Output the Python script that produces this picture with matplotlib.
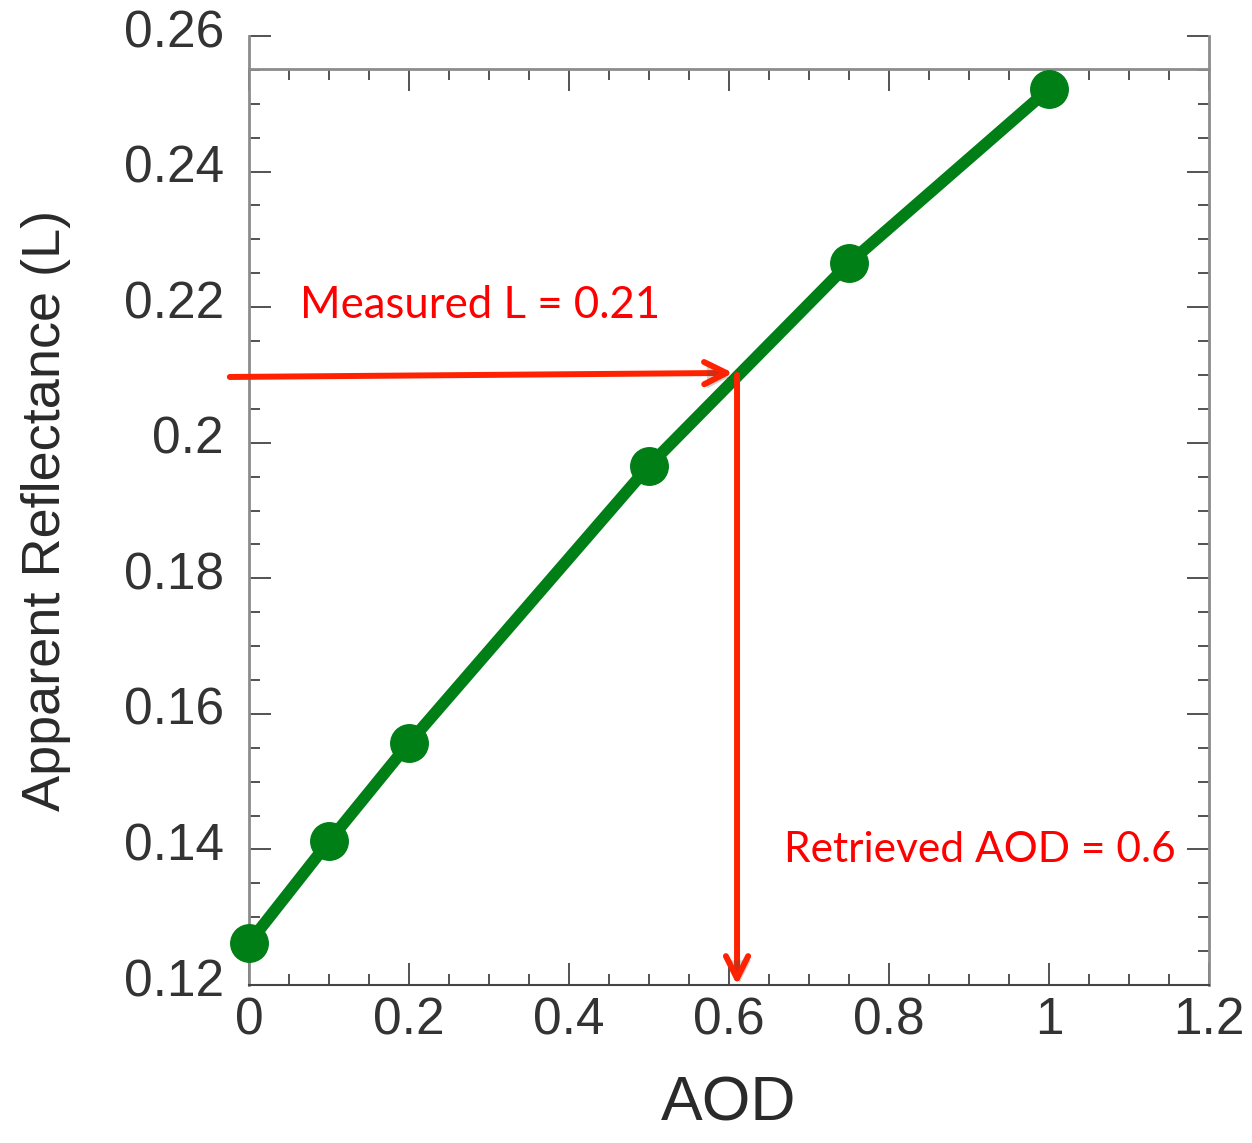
import matplotlib.pyplot as plt
import matplotlib.patheffects as pe
import matplotlib.transforms as mtransforms
from matplotlib.ticker import MultipleLocator

# data
aod = [0, 0.1, 0.2, 0.5, 0.75, 1.0]
reflectance = [0.1262, 0.1412, 0.1557, 0.1966, 0.2265, 0.2522]

measured_L = 0.21
retrieved_aod = 0.61

def main():
    plt.rcParams['font.family'] = ['Liberation Sans', 'DejaVu Sans']

    fig = plt.figure(figsize=(12.52, 11.43), dpi=100)
    ax = fig.add_axes([0.1989, 0.1382, 0.7668, 0.8303])

    ax.plot(aod, reflectance, color='#007f16', lw=8.5, marker='o', ms=27,
            solid_capstyle='round', clip_on=False, zorder=3)

    ax.set_xlim(0, 1.2)
    ax.set_ylim(0.12, 0.26)

    ax.xaxis.set_major_locator(MultipleLocator(0.2))
    ax.xaxis.set_minor_locator(MultipleLocator(0.05))
    ax.yaxis.set_major_locator(MultipleLocator(0.02))
    ax.yaxis.set_minor_locator(MultipleLocator(0.005))

    ax.xaxis.set_major_formatter(plt.FuncFormatter(lambda v, p: f"{v:g}"))
    ax.yaxis.set_major_formatter(plt.FuncFormatter(lambda v, p: f"{v:g}"))

    for side in ['left', 'right', 'bottom', 'top']:
        ax.spines[side].set_color('#8c8c8c')
        ax.spines[side].set_linewidth(2)
    ax.spines['bottom'].set_color('#444444')
    ax.spines['bottom'].set_linewidth(1.5)
    # the top frame line sits a bit below the last tick
    ax.spines['top'].set_position(('data', 0.2551))

    ax.tick_params(which='both', direction='in', top=True, right=True,
                   color='#444444', width=1.3, labelsize=37, labelcolor='#333333')
    ax.tick_params(which='major', length=16)
    ax.tick_params(which='minor', length=8)
    ax.tick_params(axis='x', which='major', pad=8)
    ax.tick_params(axis='y', which='major', pad=18)

    # y tick labels sit a little above their ticks in the original
    shift = mtransforms.ScaledTranslation(0, 8 / 100, fig.dpi_scale_trans)
    for lbl in ax.get_yticklabels():
        lbl.set_transform(lbl.get_transform() + shift)

    ax.set_xlabel('AOD', fontsize=45, color='#2a2a2a', labelpad=21)
    ax.set_ylabel('Apparent Reflectance (L)', fontsize=39, color='#2a2a2a', labelpad=38)

    shadow = [pe.SimplePatchShadow(offset=(2, -3), alpha=0.25), pe.Normal()]
    a1 = ax.annotate('', xy=(retrieved_aod - 0.005, measured_L + 0.0003),
                     xytext=(-0.024, measured_L - 0.0003),
                     arrowprops=dict(arrowstyle='->', color='#ff2200', lw=4.3,
                                     mutation_scale=40, shrinkA=0, shrinkB=0),
                     annotation_clip=False)
    a1.arrow_patch.set_path_effects(shadow)
    a2 = ax.annotate('', xy=(retrieved_aod, 0.12),
                     xytext=(retrieved_aod, measured_L),
                     arrowprops=dict(arrowstyle='->', color='#ff2200', lw=4.3,
                                     mutation_scale=40, shrinkA=0, shrinkB=0),
                     annotation_clip=False)
    a2.arrow_patch.set_path_effects(shadow)

    ax.text(0.064, 0.2203, 'Measured L = 0.21', color='#ff0000', fontsize=31.5,
            family=['Lato', 'DejaVu Sans'], va='center', ha='left')
    ax.text(0.669, 0.1399, 'Retrieved AOD = 0.6', color='#ff0000', fontsize=30.6,
            family=['Lato', 'DejaVu Sans'], va='center', ha='left')

    fig.savefig('out.png', dpi=100)

if __name__ == '__main__':
    main()
